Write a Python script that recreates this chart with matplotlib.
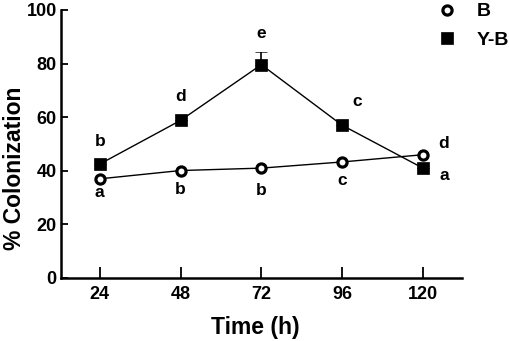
import matplotlib
matplotlib.use("Agg")
import matplotlib.pyplot as plt
from matplotlib.lines import Line2D

plt.rcParams['font.family'] = ['Liberation Sans', 'DejaVu Sans']
plt.rcParams['font.weight'] = 'bold'

time_h = [24, 48, 72, 96, 120]
b_vals = [37.0, 40.1, 41.0, 43.3, 46.0]
yb_vals = [42.5, 58.8, 79.6, 57.0, 41.0]
yb_err = [0, 0, 4.6, 0, 0]
b_letters = ['a', 'b', 'b', 'c', 'd']
yb_letters = ['b', 'd', 'e', 'c', 'a']
y_ticks = [0, 20, 40, 60, 80, 100]

# label offsets in pixels (dx, dy)
b_offsets = [(0, -14), (0, -19), (0, -22), (0, -19), (21, 11)]
yb_offsets = [(0, 23), (0, 24), (0, 31), (15, 24), (21, -7)]

fig = plt.figure(figsize=(5.10, 3.41), dpi=100)
ax = fig.add_axes([61 / 510, 63 / 341, 401 / 510, 268 / 341])

circ = dict(marker='o', ms=6.6, mfc='white', mec='black', mew=2.3)
sq = dict(marker='s', ms=8.2, mfc='black', mec='black', mew=0.5)

ax.plot(time_h, b_vals, color='black', lw=1.0, zorder=4, **circ)
ax.errorbar(time_h, yb_vals, yerr=[[0]*5, yb_err], color='black', lw=1.0,
            capsize=4, elinewidth=1.2, capthick=1.2, zorder=3, **sq)

px = 72 / 100
for x, y, t, (dx, dy) in zip(time_h, b_vals, b_letters, b_offsets):
    ax.annotate(t, (x, y), xytext=(dx * px, dy * px), textcoords='offset points',
                ha='center', va='center', fontsize=12.5, fontweight='bold')
for x, y, t, (dx, dy) in zip(time_h, yb_vals, yb_letters, yb_offsets):
    ax.annotate(t, (x, y), xytext=(dx * px, dy * px), textcoords='offset points',
                ha='center', va='center', fontsize=12.5, fontweight='bold')

ax.set_xlim(12.5, 131.6)
ax.set_ylim(0, 100)
ax.set_xticks(time_h)
ax.set_yticks(y_ticks)
ax.tick_params(direction='in', width=1.3, labelsize=13)
ax.tick_params(axis='x', length=8, pad=6)
ax.tick_params(axis='y', length=5, pad=3)
for lab in ax.get_xticklabels() + ax.get_yticklabels():
    lab.set_fontweight('bold')
ax.spines['top'].set_visible(False)
ax.spines['right'].set_visible(False)
ax.spines['left'].set_linewidth(1.8)
ax.spines['bottom'].set_linewidth(1.8)

ax.set_xlabel('Time (h)', fontsize=16.5, fontweight='bold', va='center')
ax.set_ylabel('% Colonization', fontsize=16.5, fontweight='bold', va='center')
ax.xaxis.set_label_coords(0.485, -0.183)
ax.yaxis.set_label_coords(-0.116, 0.41)

handles = [
    Line2D([], [], ls='none', **circ),
    Line2D([], [], ls='none', **sq),
]
fig.legend(handles, ['B', 'Y-B'], loc='upper right', bbox_to_anchor=(1.032, 1.043),
           frameon=False, prop={'weight': 'bold', 'size': 14},
           handletextpad=0.7, labelspacing=0.55, handlelength=1.6)

fig.savefig('out.png', dpi=100)
